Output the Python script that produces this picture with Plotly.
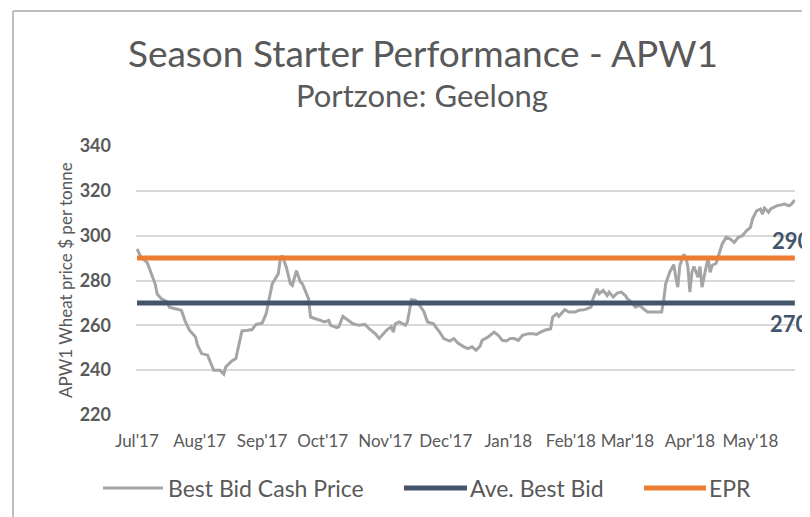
import plotly.graph_objects as go

# ---------------- data ----------------
dates = [
    "2017-07-01", "2017-07-03", "2017-07-06", "2017-07-08", "2017-07-10", "2017-07-11", "2017-07-13",
    "2017-07-16", "2017-07-17", "2017-07-20", "2017-07-23", "2017-07-25", "2017-07-27", "2017-07-30",
    "2017-07-31", "2017-08-02", "2017-08-05", "2017-08-07", "2017-08-08", "2017-08-11", "2017-08-13",
    "2017-08-14", "2017-08-17", "2017-08-19", "2017-08-22", "2017-08-25", "2017-08-27", "2017-08-29",
    "2017-09-01", "2017-09-03", "2017-09-05", "2017-09-06", "2017-09-09", "2017-09-10", "2017-09-11",
    "2017-09-13", "2017-09-15", "2017-09-16", "2017-09-18", "2017-09-20", "2017-09-21", "2017-09-24",
    "2017-09-25", "2017-09-27", "2017-09-30", "2017-10-02", "2017-10-04", "2017-10-05", "2017-10-08",
    "2017-10-09", "2017-10-11", "2017-10-14", "2017-10-16", "2017-10-19", "2017-10-22", "2017-10-24",
    "2017-10-27", "2017-10-29", "2017-10-31", "2017-11-02", "2017-11-04", "2017-11-05", "2017-11-06",
    "2017-11-08", "2017-11-11", "2017-11-12", "2017-11-14", "2017-11-16", "2017-11-18", "2017-11-20",
    "2017-11-22", "2017-11-25", "2017-11-26", "2017-11-28", "2017-11-30", "2017-12-03", "2017-12-05",
    "2017-12-07", "2017-12-10", "2017-12-12", "2017-12-14", "2017-12-16", "2017-12-18", "2017-12-19",
    "2017-12-22", "2017-12-25", "2017-12-27", "2017-12-29", "2017-12-31", "2018-01-02", "2018-01-04",
    "2018-01-06", "2018-01-08", "2018-01-11", "2018-01-13", "2018-01-15", "2018-01-17", "2018-01-19",
    "2018-01-22", "2018-01-23", "2018-01-25", "2018-01-26", "2018-01-29", "2018-01-31", "2018-02-03",
    "2018-02-05", "2018-02-08", "2018-02-10", "2018-02-11", "2018-02-12", "2018-02-14", "2018-02-15",
    "2018-02-17", "2018-02-19", "2018-02-20", "2018-02-22", "2018-02-24", "2018-02-26", "2018-02-28",
    "2018-03-01", "2018-03-03", "2018-03-05", "2018-03-07", "2018-03-09", "2018-03-11", "2018-03-14",
    "2018-03-16", "2018-03-18", "2018-03-19", "2018-03-20", "2018-03-22", "2018-03-24", "2018-03-25",
    "2018-03-26", "2018-03-27", "2018-03-29", "2018-03-30", "2018-03-31", "2018-04-01", "2018-04-02",
    "2018-04-03", "2018-04-05", "2018-04-06", "2018-04-07", "2018-04-09", "2018-04-10", "2018-04-11",
    "2018-04-12", "2018-04-14", "2018-04-15", "2018-04-16", "2018-04-17", "2018-04-19", "2018-04-21",
    "2018-04-23", "2018-04-25", "2018-04-27", "2018-04-29", "2018-05-01", "2018-05-02", "2018-05-04",
    "2018-05-06", "2018-05-07", "2018-05-08", "2018-05-10", "2018-05-11", "2018-05-14", "2018-05-16",
    "2018-05-18", "2018-05-20", "2018-05-21", "2018-05-23",
]
best_bid_cash_price = [
    294.1, 290.4, 288.1, 283.7, 278.5, 274.0, 271.9,
    270.4, 268.1, 267.4, 266.7, 261.5, 257.8, 254.8,
    251.1, 247.4, 246.7, 242.2, 240.0, 240.0, 238.2,
    241.5, 244.1, 245.2, 257.5, 257.8, 258.1, 260.4,
    261.0, 265.2, 274.1, 278.5, 283.0, 289.6, 291.1,
    285.9, 278.5, 277.8, 284.4, 279.3, 278.5, 271.9,
    263.7, 263.0, 262.2, 261.5, 262.2, 260.0, 259.0,
    259.3, 264.0, 262.2, 260.7, 260.0, 260.4, 258.5,
    256.3, 254.1, 256.3, 258.1, 259.3, 257.0, 260.7,
    261.5, 260.0, 261.5, 271.4, 271.1, 268.9, 266.4,
    261.5, 260.7, 259.3, 257.0, 254.1, 253.0, 254.1,
    252.1, 250.4, 249.6, 250.4, 248.9, 250.7, 253.3,
    254.8, 257.0, 255.6, 253.3, 253.0, 254.1, 254.1,
    253.3, 255.6, 256.3, 256.3, 255.9, 257.0, 257.8,
    258.5, 263.7, 265.2, 264.0, 267.0, 265.9, 265.9,
    266.7, 267.0, 267.9, 268.1, 271.9, 276.3, 274.1,
    275.6, 273.3, 274.8, 272.6, 274.4, 274.8, 273.3,
    271.9, 270.4, 268.1, 268.9, 267.4, 265.9, 265.9,
    265.9, 265.9, 271.1, 278.5, 283.7, 287.1, 281.5,
    277.0, 286.7, 291.6, 290.4, 286.0, 274.8, 283.7,
    286.2, 281.5, 286.2, 277.0, 285.9, 290.4, 283.7,
    286.7, 287.7, 290.4, 294.1, 296.3, 299.3, 298.5,
    297.0, 299.3, 300.0, 302.2, 303.7, 307.4, 311.1,
    311.9, 309.6, 312.3, 310.4, 311.9, 313.3, 313.8,
    314.1, 313.3, 313.8, 315.9,
]
ave_best_bid = 270
epr = 290

x_tick_dates = ["2017-07-01", "2017-08-01", "2017-09-01", "2017-10-01", "2017-11-01", "2017-12-01",
                "2018-01-01", "2018-02-01", "2018-03-01", "2018-04-01", "2018-05-01"]
x_tick_labels = ["Jul'17", "Aug'17", "Sep'17", "Oct'17", "Nov'17", "Dec'17",
                 "Jan'18", "Feb'18", "Mar'18", "Apr'18", "May'18"]
y_ticks = [220, 240, 260, 280, 300, 320, 340]

series_names = ["Best Bid Cash Price", "Ave. Best Bid", "EPR"]
series_colors = ["#A5A5A5", "#44546A", "#ED7D31"]

# ---------------- layout geometry ----------------
W, H = 810, 517
ML, MR, MT, MB = 128, 23, 138, 110
PW, PH = W - ML - MR, H - MT - MB
FONT = "Lato"
GREY_TXT = "#595959"


def px(xp):
    return (xp - ML) / PW


def py(yp):
    return (H - MB - yp) / PH


fig = go.Figure()
fig.add_trace(go.Scatter(x=dates, y=best_bid_cash_price, mode="lines", name=series_names[0],
                         line=dict(color=series_colors[0], width=3), showlegend=False))
fig.add_trace(go.Scatter(x=[dates[0], dates[-1]], y=[ave_best_bid, ave_best_bid], mode="lines",
                         name=series_names[1], line=dict(color=series_colors[1], width=5), showlegend=False))
fig.add_trace(go.Scatter(x=[dates[0], dates[-1]], y=[epr, epr], mode="lines",
                         name=series_names[2], line=dict(color=series_colors[2], width=5), showlegend=False))

shapes = []
annotations = []

# custom legend (long line samples like the original)
legend_items = [(95, 155, 158), (396, 459, 460), (636, 698, 699)]
for (x0, x1, xt), name, col in zip(legend_items, series_names, series_colors):
    shapes.append(dict(type="line", xref="paper", yref="paper", x0=px(x0), x1=px(x1), y0=py(480), y1=py(480),
                       line=dict(color=col, width=5 if col != series_colors[0] else 3)))
    annotations.append(dict(xref="paper", yref="paper", x=px(xt), y=py(480), text=name, showarrow=False,
                            xanchor="left", yanchor="middle", font=dict(family=FONT, size=23, color=GREY_TXT)))

# frame
shapes.append(dict(type="line", xref="paper", yref="paper", x0=px(5), x1=px(810), y0=py(3), y1=py(3),
                   line=dict(color="#BFBFBF", width=2)))
shapes.append(dict(type="line", xref="paper", yref="paper", x0=px(5), x1=px(5), y0=py(3), y1=py(517),
                   line=dict(color="#BFBFBF", width=2)))

# value labels at the right
annotations.append(dict(xref="paper", yref="paper", x=px(805), y=py(232), text=str(epr), showarrow=False,
                        xanchor="right", yanchor="middle",
                        font=dict(family=FONT, size=22, color="#44546A", weight="bold")))
annotations.append(dict(xref="paper", yref="paper", x=px(803), y=py(315), text=str(ave_best_bid), showarrow=False,
                        xanchor="right", yanchor="middle",
                        font=dict(family=FONT, size=22, color="#44546A", weight="bold")))

# subtitle
annotations.append(dict(xref="paper", yref="paper", x=px(414), y=py(87), text="Portzone: Geelong", showarrow=False,
                        xanchor="center", yanchor="middle", font=dict(family=FONT, size=31, color=GREY_TXT)))
# y-axis title
annotations.append(dict(xref="paper", yref="paper", x=px(57), y=py(272), text="APW1 Wheat price $ per tonne",
                        showarrow=False, textangle=-90, xanchor="center", yanchor="middle",
                        font=dict(family=FONT, size=17, color=GREY_TXT)))

fig.update_layout(
    width=W, height=H,
    margin=dict(l=ML, r=MR, t=MT, b=MB),
    paper_bgcolor="white", plot_bgcolor="white",
    title=dict(text="Season Starter Performance - APW1", xref="container", yref="container",
               x=415 / W, y=1 - 46 / H, xanchor="center", yanchor="middle",
               font=dict(family=FONT, size=37, color=GREY_TXT)),
    xaxis=dict(type="date", range=["2017-06-30 12:00", "2018-05-23 02:00"],
               tickvals=x_tick_dates, ticktext=x_tick_labels, showgrid=False, zeroline=False,
               showline=False, ticks="", ticklabelstandoff=14,
               tickfont=dict(family=FONT, size=17, color=GREY_TXT)),
    yaxis=dict(range=[220, 340], tickvals=y_ticks, showgrid=True, gridcolor="#D9D9D9", gridwidth=1.5,
               zeroline=False, showline=False, ticks="", ticklabelstandoff=24,
               tickfont=dict(family=FONT, size=18, color=GREY_TXT, weight="bold")),
    shapes=shapes, annotations=annotations,
    showlegend=False,
)

fig.write_html("out.html")
